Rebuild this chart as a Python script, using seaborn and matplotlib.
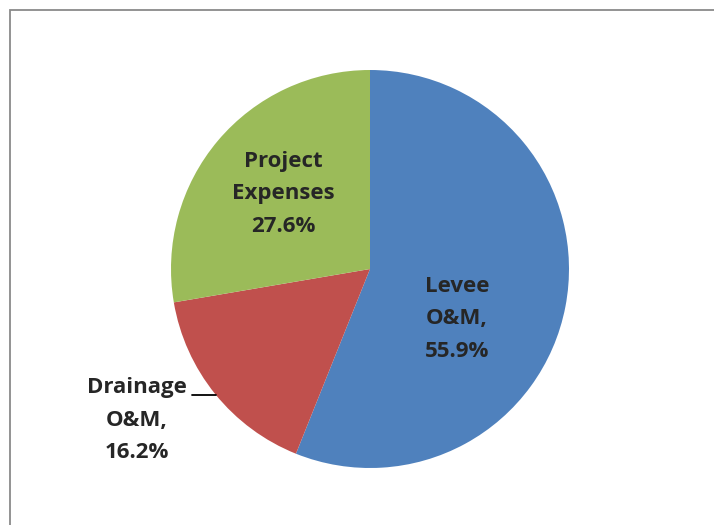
import matplotlib
matplotlib.use("Agg")
import matplotlib.pyplot as plt
from matplotlib.patches import Rectangle
from matplotlib.lines import Line2D
import seaborn as sns
import numpy as np

# Budget share by category
categories = ["Levee\nO&M,", "Drainage\nO&M,", "Project\nExpenses"]
shares = [55.9, 16.2, 27.6]
colors = ["#4F81BD", "#C0504D", "#9BBB59"]

sns.set_theme(style="white")
plt.rcParams["font.family"] = ["Open Sans", "DejaVu Sans"]

W, H = 714, 525
fig = plt.figure(figsize=(W / 100, H / 100), dpi=100)
fig.patch.set_facecolor("white")

# Outer frame (only top and left edges fall inside the canvas)
fig.add_artist(Rectangle((9.5 / W, -0.2), 1.5, 1.2 - 9.5 / H,
                         transform=fig.transFigure, fill=False,
                         edgecolor="#8a8a8a", linewidth=1.3))

# Pie axes: centre (370, 269) px, radius 199 px
cx, cy, r = 370, 269, 199
ax = fig.add_axes([(cx - r) / W, (H - cy - r) / H, 2 * r / W, 2 * r / H])
wedges, _ = ax.pie(shares, colors=colors, startangle=90, counterclock=False,
                   radius=1.0, wedgeprops=dict(linewidth=0))
ax.set_xlim(-1, 1)
ax.set_ylim(-1, 1)
ax.set_aspect("equal", adjustable="box")
ax.axis("off")

def label_text(i):
    return f"{categories[i]}\n{shares[i]:.1f}%"

txt_kw = dict(ha="center", va="center", fontsize=16, fontweight="bold",
              color="#262626", linespacing=1.7, multialignment="center")

# Levee label inside its wedge
ax.text(0.437, -0.251, label_text(0), **txt_kw)
# Project Expenses label inside its wedge
ax.text(-0.437, 0.377, label_text(2), **txt_kw)
# Drainage label outside, with a leader line to the wedge edge
ax.text(-1.171, -0.759, label_text(1), clip_on=False, **txt_kw)
ly = -0.633
ax.add_line(Line2D([-0.894, -np.sqrt(1 - ly ** 2)], [ly, ly], color="black",
                   linewidth=1.3, clip_on=False))

fig.savefig("out.png", dpi=100, facecolor="white")
